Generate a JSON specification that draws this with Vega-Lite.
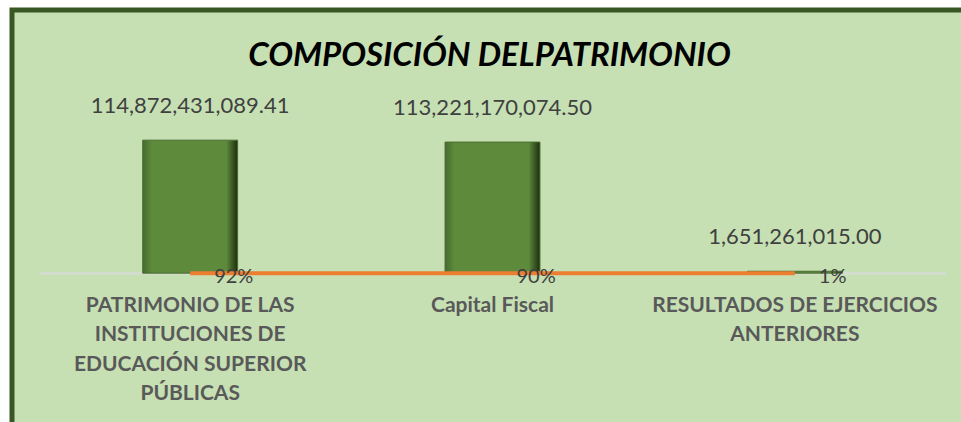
{
  "$schema": "https://vega.github.io/schema/vega-lite/v6.json",
  "width": 955,
  "height": 416,
  "autosize": "none",
  "padding": {"left": 12, "top": 10, "right": 0, "bottom": 0},
  "background": "white",
  "title": {
    "text": "COMPOSICIÓN DELPATRIMONIO",
    "font": "Lato",
    "fontSize": 33,
    "fontWeight": "bold",
    "fontStyle": "italic",
    "color": "#000000",
    "anchor": "middle",
    "frame": "group",
    "offset": -63
  },
  "data": {
    "values": [
      {"cat": "PATRIMONIO DE LAS INSTITUCIONES DE EDUCACIÓN SUPERIOR PÚBLICAS", "value": 114872431089.41, "pct": 0.92},
      {"cat": "Capital Fiscal", "value": 113221170074.50, "pct": 0.90},
      {"cat": "RESULTADOS DE EJERCICIOS ANTERIORES", "value": 1651261015.00, "pct": 0.01}
    ]
  },
  "encoding": {
    "x": {
      "field": "cat",
      "type": "nominal",
      "sort": null,
      "scale": {"range": [27, 934], "paddingInner": 0, "paddingOuter": 0},
      "axis": {
        "title": null,
        "offset": -153,
        "domainColor": "#D9D9D9",
        "domainWidth": 2,
        "ticks": false,
        "labelAngle": 0,
        "labelFont": "Lato",
        "labelFontSize": 21,
        "labelFontWeight": "bold",
        "labelColor": "#595959",
        "labelPadding": 21,
        "labelLineHeight": 29.5,
        "labelBaseline": "top",
        "labelLimit": 0,
        "labelExpr": "datum.label == 'PATRIMONIO DE LAS INSTITUCIONES DE EDUCACIÓN SUPERIOR PÚBLICAS' ? ['PATRIMONIO DE LAS', 'INSTITUCIONES DE', 'EDUCACIÓN SUPERIOR', 'PÚBLICAS'] : datum.label == 'RESULTADOS DE EJERCICIOS ANTERIORES' ? ['RESULTADOS DE EJERCICIOS', 'ANTERIORES'] : datum.label"
      }
    }
  },
  "layer": [
    {
      "mark": {
        "type": "bar",
        "width": {"band": 0.314},
        "stroke": "#4A6E31",
        "strokeWidth": 1,
        "color": {
          "gradient": "linear",
          "x1": 0, "y1": 0, "x2": 1, "y2": 0,
          "stops": [
            {"offset": 0, "color": "#466B2D"},
            {"offset": 0.1, "color": "#5E8B3B"},
            {"offset": 0.88, "color": "#5E8B3B"},
            {"offset": 1, "color": "#1C2D10"}
          ]
        }
      },
      "encoding": {
        "y": {
          "field": "value",
          "type": "quantitative",
          "scale": {"domain": [-132000000000, 227290000000], "nice": false, "zero": false},
          "axis": null
        }
      }
    },
    {
      "mark": {
        "type": "text",
        "font": "Lato",
        "fontSize": 22,
        "color": "#404040",
        "baseline": "middle",
        "dy": -34
      },
      "encoding": {
        "y": {"field": "value", "type": "quantitative"},
        "text": {"field": "value", "type": "quantitative", "format": ",.2f"}
      }
    },
    {
      "mark": {"type": "line", "color": "#ED7D31", "strokeWidth": 4},
      "encoding": {
        "y": {"field": "pct", "type": "quantitative"}
      }
    },
    {
      "mark": {
        "type": "text",
        "font": "Lato",
        "fontSize": 20,
        "color": "#404040",
        "align": "left",
        "baseline": "middle",
        "dx": 24,
        "dy": 4
      },
      "encoding": {
        "y": {"field": "pct", "type": "quantitative"},
        "text": {"field": "pct", "type": "quantitative", "format": ".0%"}
      }
    }
  ],
  "config": {
    "view": {"fill": "#C6E0B4", "stroke": "#385723", "strokeWidth": 5}
  }
}
